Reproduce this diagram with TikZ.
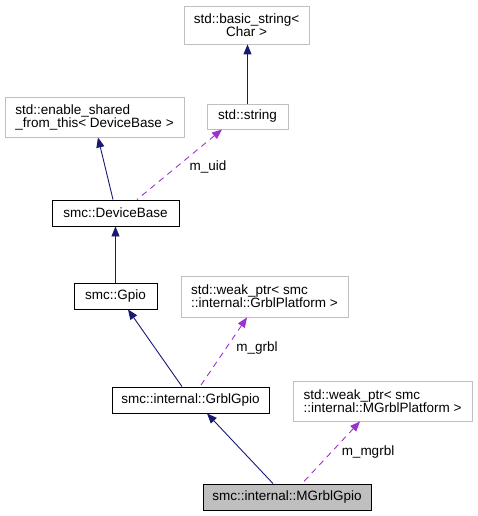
\documentclass[tikz,border=0pt]{standalone}
\usepackage{fontspec}
\setmainfont{Liberation Sans}
\usepackage{tikz}
\usetikzlibrary{arrows.meta}
\definecolor{grey75}{HTML}{BFBFBF}
\definecolor{dxblue}{HTML}{191970}
\definecolor{dxpurple}{HTML}{9A32CD}

\begin{document}
\begin{tikzpicture}[x=1pt,y=-1pt,
  every node/.style={font=\fontsize{13.5}{13}\selectfont,inner sep=0pt},
  cls/.style={draw=black,line width=0.9pt,minimum height=26pt},
  ext/.style={draw=grey75,line width=0.9pt,minimum height=40pt},
  inh/.style={{Triangle[length=10pt,width=8pt]}-,dxblue,line width=0.9pt},
  use/.style={{Triangle[length=10pt,width=8pt]}-,dxpurple,line width=0.9pt,dash pattern=on 6pt off 5pt}]
\useasboundingbox (0,0) rectangle (477,516);

\node[ext,minimum width=125pt,minimum height=38pt,align=center] (basicstr) at (246.5,25) {std::basic\_string<\\Char >};
\node[ext,minimum width=81pt,minimum height=25pt] (stdstr) at (247.5,116.5) {std::string};
\node[ext,minimum width=179pt,align=left] (enable) at (94.5,117) {std::enable\_shared\\\_from\_this< DeviceBase >};
\node[cls,minimum width=127pt] (devbase) at (115.5,213) {smc::DeviceBase};

\node[cls,minimum width=83pt] (gpio) at (115.5,296) {smc::Gpio};
\node[ext,minimum width=167pt,minimum height=41pt,align=left] (weakgrbl) at (264.5,296.5) {std::weak\_ptr< smc\\::internal::GrblPlatform >};
\node[cls,minimum width=157pt] (grblgpio) at (190.5,400) {smc::internal::GrblGpio};

\node[ext,minimum width=179pt,align=left] (weakmgrbl) at (382.5,401) {std::weak\_ptr< smc\\::internal::MGrblPlatform >};
\node[cls,fill=grey75,minimum width=168pt] (mgrblgpio) at (287,497) {smc::internal::MGrblGpio};

% base classes
\draw [inh] (stdstr.north |- basicstr.south) -- (stdstr.north);
\draw [inh] ([xshift=3.5pt]enable.south) -- ([xshift=-2.5pt]devbase.north);
\draw [inh] (gpio.north |- devbase.south) -- (gpio.north);
\draw [inh] ([xshift=12.5pt]gpio.south) -- ([xshift=-8.5pt]grblgpio.north);
\draw [inh] ([xshift=16.5pt]grblgpio.south) -- ([xshift=-14pt]mgrblgpio.north);

% members
\draw [use] ([xshift=-25.5pt]stdstr.south) -- ([xshift=21.5pt]devbase.north);
\node (uid) at (208,167) {m\_uid};
\draw [use] ([xshift=-17.5pt]weakgrbl.south) -- ([xshift=9.5pt]grblgpio.north);
\node (grbl) at (257,348) {m\_grbl};
\draw [use] ([xshift=-22.5pt]weakmgrbl.south) -- ([xshift=15pt]mgrblgpio.north);
\node (mgrbl) at (368,452) {m\_mgrbl};
\end{tikzpicture}
\end{document}
